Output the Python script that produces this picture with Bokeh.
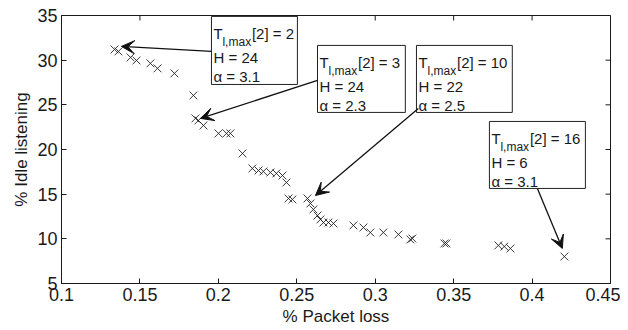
import math
from bokeh.plotting import figure
from bokeh.models import Range1d, BoxAnnotation, Arrow, VeeHead, Label, FixedTicker
from bokeh.embed import file_html
from bokeh.resources import INLINE

# ---- data -------------------------------------------------------------
pkt_loss = [0.1338, 0.1363, 0.1440, 0.1478, 0.1567, 0.1612, 0.1720, 0.1841,
            0.1854, 0.1873, 0.1905, 0.2001, 0.2052, 0.2077, 0.2154, 0.2217,
            0.2256, 0.2287, 0.2332, 0.2370, 0.2409, 0.2434, 0.2447, 0.2472,
            0.2568, 0.2587, 0.2606, 0.2632, 0.2651, 0.2670, 0.2702, 0.2734,
            0.2861, 0.2925, 0.2969, 0.3052, 0.3148, 0.3224, 0.3237, 0.3441,
            0.3454, 0.3785, 0.3823, 0.3862, 0.4206]
idle = [31.20, 30.98, 30.31, 29.97, 29.64, 29.08, 28.52, 26.05,
        23.48, 23.25, 22.69, 21.80, 21.80, 21.80, 19.56, 17.88,
        17.65, 17.54, 17.43, 17.32, 17.09, 16.31, 14.52, 14.41,
        14.52, 13.96, 13.29, 12.61, 12.17, 11.83, 11.83, 11.72,
        11.50, 11.27, 10.71, 10.71, 10.49, 9.93, 10.04, 9.48,
        9.48, 9.26, 9.14, 8.92, 8.02]

x_ticks = [0.1, 0.15, 0.2, 0.25, 0.3, 0.35, 0.4, 0.45]
x_tick_labels = ["0.1", "0.15", "0.2", "0.25", "0.3", "0.35", "0.4", "0.45"]
y_ticks = [5, 10, 15, 20, 25, 30, 35]

ann_tmax = [2, 3, 10, 16]
ann_h = [24, 24, 22, 6]
ann_alpha = [3.1, 2.3, 2.5, 3.1]

# annotation layout (data coordinates)
box_left = [0.1956, 0.2632, 0.3263, 0.3728]
box_right = [0.2504, 0.3192, 0.3874, 0.4340]
box_top = [34.90, 31.65, 31.65, 23.14]
box_bottom = [27.28, 24.15, 24.15, 15.64]
arrow_tail_x = [0.1956, 0.2632, 0.3275, 0.4034]
arrow_tail_y = [30.98, 27.73, 24.60, 15.64]
arrow_tip_x = [0.1382, 0.1886, 0.2619, 0.4193]
arrow_tip_y = [31.54, 23.48, 14.85, 8.92]

FONT = "Liberation Sans"
TXT = "#1a1a1a"
X0, X1, Y0, Y1 = 0.1, 0.45, 5, 35

p = figure(width=620, height=328, x_range=Range1d(X0, X1), y_range=Range1d(Y0, Y1),
           output_backend="svg", toolbar_location=None,
           min_border_left=61, min_border_right=10, min_border_top=15, min_border_bottom=45)
p.xgrid.visible = False
p.ygrid.visible = False
p.outline_line_color = "#1a1a1a"
p.outline_line_width = 1
p.background_fill_color = "white"

p.scatter(pkt_loss, idle, marker="x", size=11, line_color="#222222", line_width=0.9)

# inward ticks on the top and right edges of the box
p.ray(x=x_ticks, y=[Y1] * len(x_ticks), length=5, length_units="screen",
      angle=-math.pi / 2, line_color="#1a1a1a", line_width=1)
p.ray(x=[X1] * len(y_ticks), y=y_ticks, length=5, length_units="screen",
      angle=math.pi, line_color="#1a1a1a", line_width=1)

for ax in (p.xaxis[0], p.yaxis[0]):
    ax.axis_line_color = "#1a1a1a"
    ax.axis_line_width = 1
    ax.major_tick_in = 5
    ax.major_tick_out = 0
    ax.major_tick_line_color = "#1a1a1a"
    ax.minor_tick_line_color = None
    ax.major_label_text_font = FONT
    ax.major_label_text_font_size = "18px"
    ax.major_label_text_color = TXT
    ax.major_label_standoff = 4
    ax.axis_label_text_font = FONT
    ax.axis_label_text_font_size = "17px"
    ax.axis_label_text_font_style = "normal"
    ax.axis_label_text_color = TXT
    ax.axis_label_standoff = 3

p.xaxis.ticker = FixedTicker(ticks=x_ticks)
p.xaxis.major_label_overrides = {t: l for t, l in zip(x_ticks, x_tick_labels)}
p.yaxis.ticker = FixedTicker(ticks=y_ticks)
p.xaxis.axis_label = "% Packet loss"
p.yaxis.axis_label = "% Idle listening"

for i in range(len(ann_tmax)):
    p.add_layout(BoxAnnotation(left=box_left[i], right=box_right[i], top=box_top[i],
                               bottom=box_bottom[i], fill_color="white", fill_alpha=1.0,
                               line_color="#222222", line_width=1, line_alpha=1.0))
for i in range(len(ann_tmax)):
    p.add_layout(Arrow(x_start=arrow_tail_x[i], y_start=arrow_tail_y[i],
                       x_end=arrow_tip_x[i], y_end=arrow_tip_y[i],
                       line_color="#111111", line_width=1.3,
                       end=VeeHead(size=13, fill_color="#111111", line_color="#111111",
                                   line_width=1)))


def add_label(x, y, dx, dy, text, size):
    p.add_layout(Label(x=x, y=y, x_offset=dx, y_offset=dy, text=text,
                       text_font=FONT, text_font_size=size, text_color=TXT,
                       text_baseline="alphabetic", text_align="left"))


for i in range(len(ann_tmax)):
    bx, by = box_left[i], box_top[i]
    add_label(bx, by, 2, -17, "T", "15px")
    add_label(bx, by, 11, -26, "l,max", "12px")
    add_label(bx, by, 40.5, -17, "[2] = %d" % ann_tmax[i], "15px")
    add_label(bx, by, 2, -41, "H = %d" % ann_h[i], "15px")
    add_label(bx, by, 2, -60, "\u03b1 = %.1f" % ann_alpha[i], "15px")

open("out.html", "w").write(file_html(p, INLINE))
